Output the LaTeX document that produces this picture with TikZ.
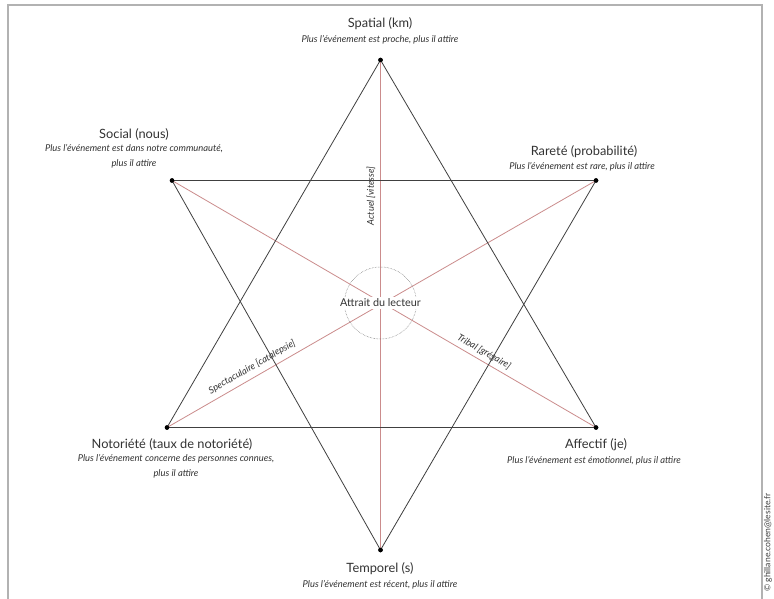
\documentclass[tikz,border=0pt]{standalone}
\usepackage{fontspec}
\setmainfont{Lato}
\begin{document}
\begin{tikzpicture}[x=1pt,y=-1pt,
  dot/.style={circle,fill=black,inner sep=0pt,minimum size=4.5pt},
  edge/.style={draw=black!75,line width=0.8pt},
  redline/.style={draw=red!55!black!45!white,line width=0.8pt},
  title/.style={font=\fontsize{12.8}{14}\selectfont,text=black!80,inner sep=0pt,align=center},
  sub/.style={font=\fontsize{9.4}{15.5}\selectfont\itshape,text=black!80,inner sep=0pt,align=center},
  axis/.style={font=\fontsize{9.4}{11}\selectfont\itshape,text=black!80,inner sep=0pt}]
\useasboundingbox (0,0) rectangle (774,599);
\fill[white] (0,0) rectangle (774,599);
% frame
\draw[black!30,line width=1.6pt] (8,599) -- (8,5) -- (762,5) -- (762,599);
% vertices
\node[dot] (sp) at (380.5,60) {};
\node[dot] (ra) at (596,180.5) {};
\node[dot] (af) at (596,427.5) {};
\node[dot] (te) at (380.5,550) {};
\node[dot] (no) at (167,427.5) {};
\node[dot] (so) at (172,180.5) {};
% red axes
\draw[redline] (te.center) -- (sp.center);
\draw[redline] (no.center) -- (ra.center);
\draw[redline] (so.center) -- (af.center);
\node[axis,rotate=90] (ax1) at (371,196) {Actuel [vitesse]};
\node[axis,rotate=30] (ax2) at (252,367) {Spectaculaire [catalepsie]};
\node[axis,rotate=-30] (ax3) at (484,352) {Tribal [grégaire]};
% triangles
\draw[edge] (sp.center) -- (af.center) -- (no.center) -- cycle;
\draw[edge] (so.center) -- (ra.center) -- (te.center) -- cycle;
\node[dot] at (sp) {};
\node[dot] at (ra) {};
\node[dot] at (af) {};
\node[dot] at (te) {};
\node[dot] at (no) {};
\node[dot] at (so) {};
% centre
\node[circle,draw=black!60,densely dotted,line width=0.5pt,minimum size=72pt] (ring) at (380.5,303) {};
\node[fill=white,inner sep=1.5pt,font=\fontsize{10.8}{12}\selectfont,text=black!80] (core) at (380.5,303) {Attrait du lecteur};
% labels
\node[title] (spT) at (380,24) {Spatial (km)};
\node[sub] (spS) at (380,40) {Plus l'événement est proche, plus il attire};
\node[title] (soT) at (134,134) {Social (nous)};
\node[sub,anchor=north] (soS) at (134,144) {Plus l'événement est dans notre communauté,\\plus il attire};
\node[title] (raT) at (584,152) {Rareté (probabilité)};
\node[sub] (raS) at (582,167) {Plus l'événement est rare, plus il attire};
\node[title] (noT) at (172,444) {Notoriété (taux de notoriété)};
\node[sub,anchor=north] (noS) at (176,454) {Plus l'événement concerne des personnes connues,\\plus il attire};
\node[title] (afT) at (596,445) {Affectif (je)};
\node[sub] (afS) at (594,461) {Plus l'événement est émotionnel, plus il attire};
\node[title] (teT) at (380,569) {Temporel (s)};
\node[sub] (teS) at (380,585) {Plus l'événement est récent, plus il attire};
% copyright
\node[rotate=90,font=\fontsize{8.6}{9}\selectfont,text=black!75,anchor=west,inner sep=0pt] (cp) at (768,592) {© ghillane.cohen@lesite.fr};
\end{tikzpicture}
\end{document}
